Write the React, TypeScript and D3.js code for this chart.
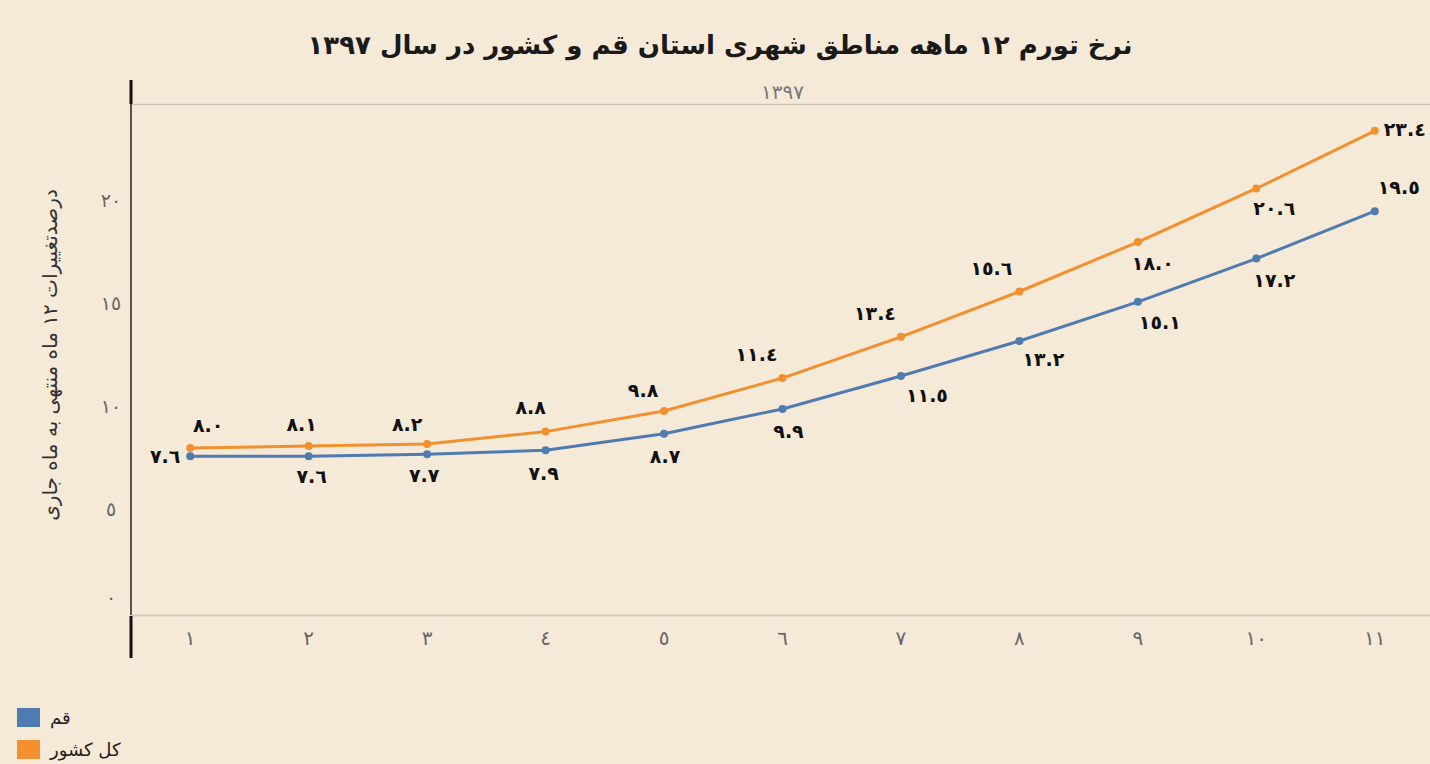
import React, { useEffect, useRef } from "react";
import * as d3 from "d3";

// months (x categories)
const months = ["١", "٢", "٣", "٤", "٥", "٦", "٧", "٨", "٩", "١٠", "١١"];
// 12-month inflation, Qom province (urban)
const qomValues = [7.6, 7.6, 7.7, 7.9, 8.7, 9.9, 11.5, 13.2, 15.1, 17.2, 19.5];
// 12-month inflation, whole country
const countryValues = [8.0, 8.1, 8.2, 8.8, 9.8, 11.4, 13.4, 15.6, 18.0, 20.6, 23.4];
const yTicks = [0, 5, 10, 15, 20];
const seriesNames = ["قم", "کل کشور"];

// label offsets from each point (layout only)
const qomLabelOffsets = [
  [-25, 0], [3, 20], [-3, 21], [-2, 23], [1, 23], [6, 22],
  [26, 19], [24, 18], [22, 21], [18, 22], [24, -24],
];
const countryLabelOffsets = [
  [18, -23], [-7, -22], [-20, -20], [-15, -24], [-21, -21], [-26, -24],
  [-26, -23], [-28, -23], [15, 21], [18, 20], [30, -1],
];

const toArabicDigits = (s: string) =>
  s.replace(/[0-9]/g, (d) => "٠١٢٣٤٥٦٧٨٩"[+d]);

export default function App() {
  const svgRef = useRef<SVGSVGElement>(null);

  useEffect(() => {
    if (!svgRef.current) return;

    const width = 1430;
    const height = 764;
    const plotLeft = 131;
    const plotRight = 1434;
    const plotTop = 104;
    const plotBottom = 615;
    const bg = "#f5e9d8";
    const blue = "#4f7bb0";
    const orange = "#f2902e";
    const font = "'DejaVu Sans', sans-serif";

    d3.select(svgRef.current).selectAll("*").remove();

    const svg = d3.select(svgRef.current)
      .attr("width", width)
      .attr("height", height)
      .attr("viewBox", [0, 0, width, height])
      .style("display", "block")
      .style("font-family", font);

    svg.append("rect")
      .attr("width", width)
      .attr("height", height)
      .attr("fill", bg);

    const x = d3.scaleBand<string>()
      .domain(months)
      .range([plotLeft, plotRight]);

    const y = d3.scaleLinear()
      .domain([-0.1, 24.7])
      .range([plotBottom, plotTop]);

    const cx = (i: number) => (x(months[i]) as number) + x.bandwidth() / 2;

    // Title
    svg.append("text")
      .attr("x", 720)
      .attr("y", 54)
      .attr("text-anchor", "middle")
      .attr("direction", "rtl")
      .style("font-size", "26px")
      .style("font-weight", "bold")
      .attr("fill", "#1a1a1a")
      .text("نرخ تورم ۱۲ ماهه  مناطق شهری استان قم و کشور در سال  ۱۳۹۷");

    // Column header
    svg.append("text")
      .attr("x", (plotLeft + plotRight) / 2)
      .attr("y", 99)
      .attr("text-anchor", "middle")
      .style("font-size", "20px")
      .attr("fill", "#777")
      .text("١٣٩٧");

    // Frame lines
    svg.append("line")
      .attr("x1", plotLeft).attr("x2", width)
      .attr("y1", plotTop + 0.5).attr("y2", plotTop + 0.5)
      .attr("stroke", "#cfc6ba").attr("stroke-width", 1.5);
    svg.append("line")
      .attr("x1", plotLeft).attr("x2", width)
      .attr("y1", plotBottom + 0.5).attr("y2", plotBottom + 0.5)
      .attr("stroke", "#d6cdc1").attr("stroke-width", 2);
    svg.append("line")
      .attr("x1", plotLeft).attr("x2", plotLeft)
      .attr("y1", 80).attr("y2", plotTop)
      .attr("stroke", "#111").attr("stroke-width", 3);
    svg.append("line")
      .attr("x1", plotLeft).attr("x2", plotLeft)
      .attr("y1", plotTop).attr("y2", plotBottom)
      .attr("stroke", "#222").attr("stroke-width", 1.5);
    svg.append("line")
      .attr("x1", plotLeft).attr("x2", plotLeft)
      .attr("y1", plotBottom + 1).attr("y2", 658)
      .attr("stroke", "#111").attr("stroke-width", 3);

    // Y tick labels
    svg.append("g")
      .selectAll("text")
      .data(yTicks)
      .join("text")
      .attr("x", 111)
      .attr("y", (d) => Math.min(y(d), 598))
      .attr("dy", "0.32em")
      .attr("text-anchor", "middle")
      .style("font-size", "19px")
      .attr("fill", "#666")
      .text((d) => toArabicDigits(String(d)));

    // Y axis title
    svg.append("text")
      .attr("transform", `translate(57, 355) rotate(-90)`)
      .attr("text-anchor", "middle")
      .attr("direction", "rtl")
      .style("font-size", "20px")
      .attr("fill", "#333")
      .text("درصدتغییرات ۱۲ ماه منتهی به ماه جاری");

    // X tick labels
    svg.append("g")
      .selectAll("text")
      .data(months)
      .join("text")
      .attr("x", (d) => (x(d) as number) + x.bandwidth() / 2)
      .attr("y", 645)
      .attr("text-anchor", "middle")
      .style("font-size", "20px")
      .attr("fill", "#666")
      .text((d) => d);

    const line = d3.line<number>()
      .x((_, i) => cx(i))
      .y((d) => y(d));

    const series = [
      { values: countryValues, color: orange, offsets: countryLabelOffsets },
      { values: qomValues, color: blue, offsets: qomLabelOffsets },
    ];

    series.forEach((s) => {
      svg.append("path")
        .datum(s.values)
        .attr("fill", "none")
        .attr("stroke", s.color)
        .attr("stroke-width", 3)
        .attr("stroke-linejoin", "round")
        .attr("d", line);

      svg.append("g")
        .selectAll("circle")
        .data(s.values)
        .join("circle")
        .attr("cx", (_, i) => cx(i))
        .attr("cy", (d) => y(d))
        .attr("r", 4)
        .attr("fill", s.color);
    });

    series.forEach((s) => {
      svg.append("g")
        .selectAll("text")
        .data(s.values)
        .join("text")
        .attr("x", (_, i) => cx(i) + s.offsets[i][0])
        .attr("y", (d, i) => y(d) + s.offsets[i][1])
        .attr("dy", "0.35em")
        .attr("text-anchor", "middle")
        .style("font-size", "19px")
        .style("font-weight", "bold")
        .attr("fill", "#111")
        .text((d) => toArabicDigits(d.toFixed(1)));
    });

    // Legend
    const legend = svg.append("g").attr("transform", "translate(17, 708)");
    [blue, orange].forEach((c, i) => {
      legend.append("rect")
        .attr("x", 0)
        .attr("y", i * 32)
        .attr("width", 23)
        .attr("height", 19)
        .attr("fill", c);
      legend.append("text")
        .attr("x", 33)
        .attr("y", i * 32 + 10)
        .attr("dy", "0.35em")
        .attr("direction", "rtl")
        .attr("text-anchor", "end")
        .style("font-size", "18px")
        .attr("fill", "#222")
        .text(seriesNames[i]);
    });
  }, []);

  return (
    <div style={{ position: "absolute", left: 0, top: 0 }}>
      <svg ref={svgRef}></svg>
    </div>
  );
}
